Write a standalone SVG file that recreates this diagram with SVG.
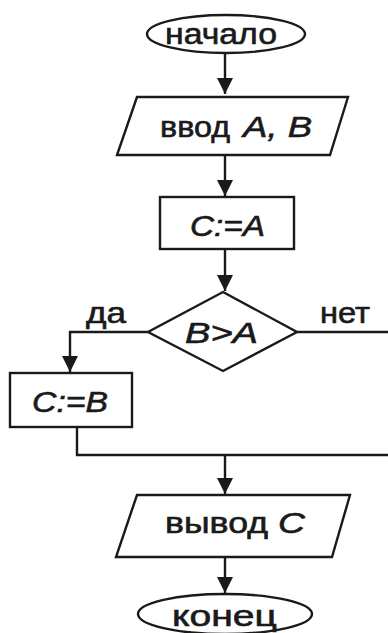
<svg xmlns="http://www.w3.org/2000/svg" width="388" height="633" viewBox="0 0 388 633">
<style>
.s{fill:#fff;stroke:#1a1a1a;stroke-width:2.4}
.c{fill:none;stroke:#1a1a1a;stroke-width:2.4}
text{font-family:"Liberation Sans",Arial,sans-serif;font-size:29px;fill:#1a1a1a;stroke:#1a1a1a;stroke-width:0.6}
.i{font-style:italic}
</style>
<defs>
<marker id="ar" markerUnits="userSpaceOnUse" markerWidth="16" markerHeight="16" refX="16" refY="8" orient="auto">
<path d="M0,0 L16,8 L0,16 z" fill="#1a1a1a"/>
</marker>
</defs>
<g id="connectors">
<path class="c" d="M225,54 V94" marker-end="url(#ar)"/>
<path class="c" d="M225,155 V196" marker-end="url(#ar)"/>
<path class="c" d="M225,249 V291" marker-end="url(#ar)"/>
<path class="c" d="M148,332 H70 V372" marker-end="url(#ar)"/>
<path class="c" d="M297,332 H392 V455"/>
<path class="c" d="M77,427 V455 H392"/>
<path class="c" d="M225,455 V494" marker-end="url(#ar)"/>
<path class="c" d="M225,557 V593" marker-end="url(#ar)"/>
<text x="86" y="323" textLength="40" lengthAdjust="spacingAndGlyphs">да</text>
<text x="320" y="323" textLength="50" lengthAdjust="spacingAndGlyphs">нет</text>
</g>
<g id="start">
<ellipse class="s" cx="226" cy="34" rx="79" ry="19"/>
<text x="165" y="44" textLength="112" lengthAdjust="spacingAndGlyphs">начало</text>
</g>
<g id="input">
<polygon class="s" points="137,97 348,97 330,155 117,155"/>
<text x="160" y="137"><tspan textLength="70" lengthAdjust="spacingAndGlyphs">ввод</tspan><tspan class="i" x="243" textLength="69" lengthAdjust="spacingAndGlyphs">A, B</tspan></text>
</g>
<g id="assignA">
<rect class="s" x="160" y="197" width="134" height="52"/>
<text class="i" x="190" y="236" textLength="75" lengthAdjust="spacingAndGlyphs">C:=A</text>
</g>
<g id="decision">
<polygon class="s" points="223,292 297,332 223,371 148,332"/>
<text class="i" x="185" y="343" textLength="73" lengthAdjust="spacingAndGlyphs">B&gt;A</text>
</g>
<g id="assignB">
<rect class="s" x="10" y="373" width="122" height="54"/>
<text class="i" x="32" y="412" textLength="76" lengthAdjust="spacingAndGlyphs">C:=B</text>
</g>
<g id="output">
<polygon class="s" points="137,495 350,495 332,557 116,557"/>
<text x="165" y="533"><tspan textLength="103" lengthAdjust="spacingAndGlyphs">вывод</tspan><tspan class="i" x="278" textLength="27" lengthAdjust="spacingAndGlyphs">C</tspan></text>
</g>
<g id="end">
<ellipse class="s" cx="225" cy="614" rx="87" ry="20"/>
<text x="172" y="626" textLength="105" lengthAdjust="spacingAndGlyphs">конец</text>
</g>
</svg>
